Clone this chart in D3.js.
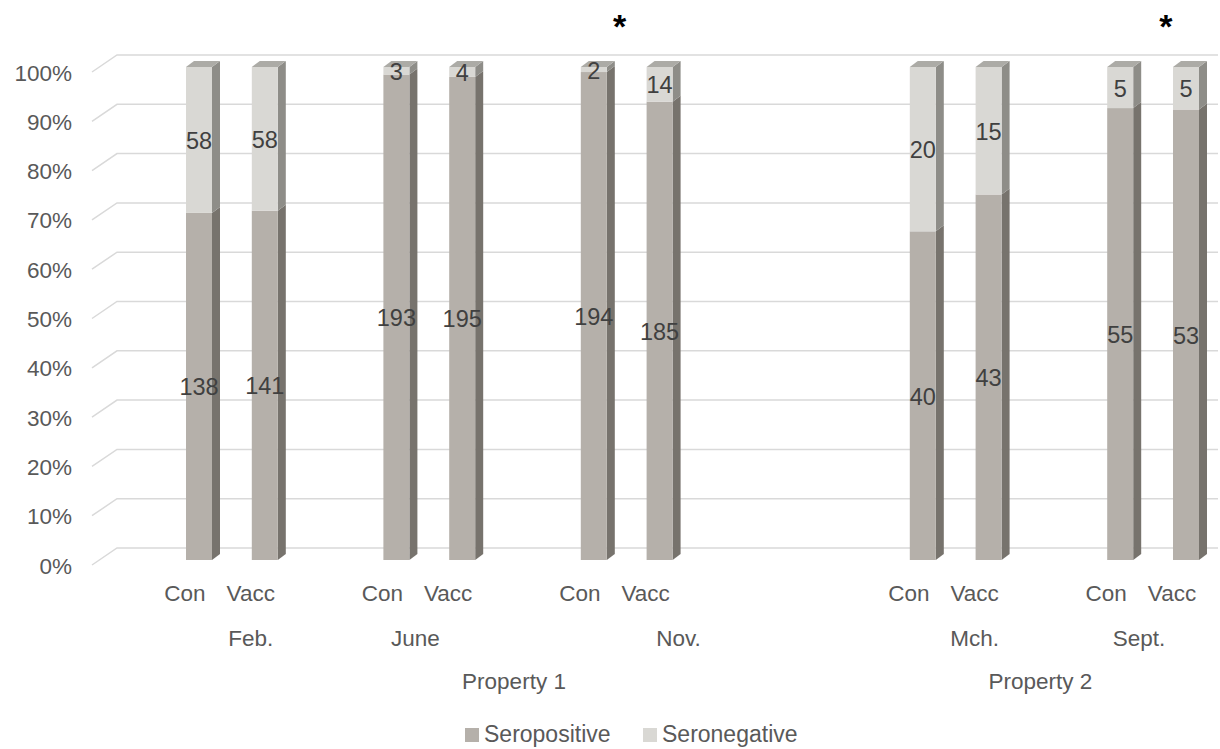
<!DOCTYPE html>
<html>
<head>
<meta charset="utf-8">
<script src="https://cdn.jsdelivr.net/npm/d3@7"></script>
<style>
  html, body { margin: 0; padding: 0; background: #fff; }
  svg { display: block; font-family: "Liberation Sans", Arial, sans-serif; }
</style>
</head>
<body>
<svg id="chart" width="1220" height="749"></svg>
<script>
// ---- data ----
const slots = ["Feb-Con","Feb-Vacc","Feb-x","June-Con","June-Vacc","Nov-x0","Nov-Con","Nov-Vacc","Nov-x1","Nov-x2","Nov-x3","Mch-Con","Mch-Vacc","Mch-x","Sept-Con","Sept-Vacc"];
const treatments = ["Con","Vacc","","Con","Vacc","","Con","Vacc","","","","Con","Vacc","","Con","Vacc"];
const months = [
  {label: "Feb.", from: 0, to: 2},
  {label: "June", from: 3, to: 4},
  {label: "Nov.", from: 5, to: 10},
  {label: "Mch.", from: 11, to: 13},
  {label: "Sept.", from: 14, to: 15}
];
const properties = [
  {label: "Property 1", from: 0, to: 10},
  {label: "Property 2", from: 11, to: 15}
];
const seropositive = [138, 141, null, 193, 195, null, 194, 185, null, null, null, 40, 43, null, 55, 53];
const seronegative = [58, 58, null, 3, 4, null, 2, 14, null, null, null, 20, 15, null, 5, 5];
const seriesNames = ["Seropositive", "Seronegative"];
const yTicks = [0, 0.1, 0.2, 0.3, 0.4, 0.5, 0.6, 0.7, 0.8, 0.9, 1];
const significantSlots = [6.5, 14.8];

// ---- styles ----
const colors = {
  pos: {front: "#b5b0aa", side: "#77736d", top: "#9d9993"},
  neg: {front: "#d9d8d4", side: "#8e8d88", top: "#acaba6"}
};
const axisText = "#595959";
const labelText = "#404040";
const grid = "#d9d9d9";
const fs = 22.5;

const svg = d3.select("#chart");

// oblique 3D offsets
const depthWall = {dx: 25, dy: -17};
const barDepth = {dx: 8, dy: -6};
const barShift = {dx: 7, dy: -5};   // bar front relative to floor front

const x = d3.scaleBand().domain(d3.range(slots.length)).range([159.1, 1211.9]).padding(0);
const cx = i => x(i) + x.bandwidth() / 2;          // floor-front slot centre
const cxf = v => 159.1 + x.bandwidth() * (v + 0.5); // fractional slot centre

const yFront = d3.scaleLinear().domain([0, 1]).range([565, 72]);
const yBar = v => yFront(v) + barShift.dy;

// ---- gridlines (side wall diagonal + back wall) ----
const gridG = svg.append("g");
yTicks.forEach(t => {
  const y0 = yFront(t);
  gridG.append("path")
    .attr("d", `M92,${y0} L${92 + depthWall.dx},${y0 + depthWall.dy} L1218,${y0 + depthWall.dy}`)
    .attr("fill", "none").attr("stroke", grid).attr("stroke-width", 1.5);
});

// y axis labels
const fmt = d3.format(".0%");
svg.append("g").selectAll("text").data(yTicks).join("text")
  .attr("x", 72).attr("y", d => yFront(d) + 1)
  .attr("text-anchor", "end").attr("dominant-baseline", "central")
  .attr("font-size", fs).attr("fill", axisText)
  .text(d => fmt(d));

// ---- bars ----
const halfW = 13;
const barsG = svg.append("g");
slots.forEach((s, i) => {
  const p = seropositive[i], n = seronegative[i];
  if (p == null) return;
  const tot = p + n;
  const segs = [
    {v0: 0, v1: p / tot, c: colors.pos, val: p},
    {v0: p / tot, v1: 1, c: colors.neg, val: n}
  ];
  const xc = cx(i) + barShift.dx;
  const xl = xc - halfW, xr = xc + halfW;
  segs.forEach((sg, k) => {
    const yb = yBar(sg.v0), yt = yBar(sg.v1);
    barsG.append("path")
      .attr("d", `M${xr},${yb} L${xr + barDepth.dx},${yb + barDepth.dy} L${xr + barDepth.dx},${yt + barDepth.dy} L${xr},${yt} Z`)
      .attr("fill", sg.c.side);
    barsG.append("rect")
      .attr("x", xl).attr("y", yt).attr("width", xr - xl).attr("height", yb - yt)
      .attr("fill", sg.c.front);
    if (k === segs.length - 1) {
      barsG.append("path")
        .attr("d", `M${xl},${yt} L${xl + barDepth.dx},${yt + barDepth.dy} L${xr + barDepth.dx},${yt + barDepth.dy} L${xr},${yt} Z`)
        .attr("fill", sg.c.top);
    }
  });
  segs.forEach(sg => {
    barsG.append("text")
      .attr("x", xc).attr("y", yBar((sg.v0 + sg.v1) / 2) + 1)
      .attr("text-anchor", "middle").attr("dominant-baseline", "central")
      .attr("font-size", 23.5).attr("fill", labelText)
      .text(sg.val);
  });
});

// ---- x axis multi-level labels ----
const xl1 = svg.append("g");
treatments.forEach((t, i) => {
  if (!t) return;
  xl1.append("text").attr("x", cx(i) - 7).attr("y", 601)
    .attr("text-anchor", "middle").attr("font-size", fs).attr("fill", axisText).text(t);
});
svg.append("g").selectAll("text").data(months).join("text")
  .attr("x", d => (cx(d.from) + cx(d.to)) / 2 - 7).attr("y", 646)
  .attr("text-anchor", "middle").attr("font-size", fs).attr("fill", axisText)
  .text(d => d.label);
svg.append("g").selectAll("text").data(properties).join("text")
  .attr("x", d => (cx(d.from) + cx(d.to)) / 2 - 7).attr("y", 689)
  .attr("text-anchor", "middle").attr("font-size", fs).attr("fill", axisText)
  .text(d => d.label);

// ---- significance asterisks ----
svg.append("g").selectAll("text").data(significantSlots).join("text")
  .attr("x", d => cxf(d)).attr("y", 38)
  .attr("text-anchor", "middle").attr("font-size", 34).attr("font-weight", "bold")
  .attr("fill", "#000").text("*");

// ---- legend ----
const legend = svg.append("g");
const legendItems = [
  {name: seriesNames[0], color: colors.pos.front, x: 465},
  {name: seriesNames[1], color: colors.neg.front, x: 643}
];
legendItems.forEach(d => {
  legend.append("rect").attr("x", d.x).attr("y", 728).attr("width", 14).attr("height", 14).attr("fill", d.color);
  legend.append("text").attr("x", d.x + 19).attr("y", 742)
    .attr("font-size", 23).attr("fill", axisText).text(d.name);
});
</script>
</body>
</html>
